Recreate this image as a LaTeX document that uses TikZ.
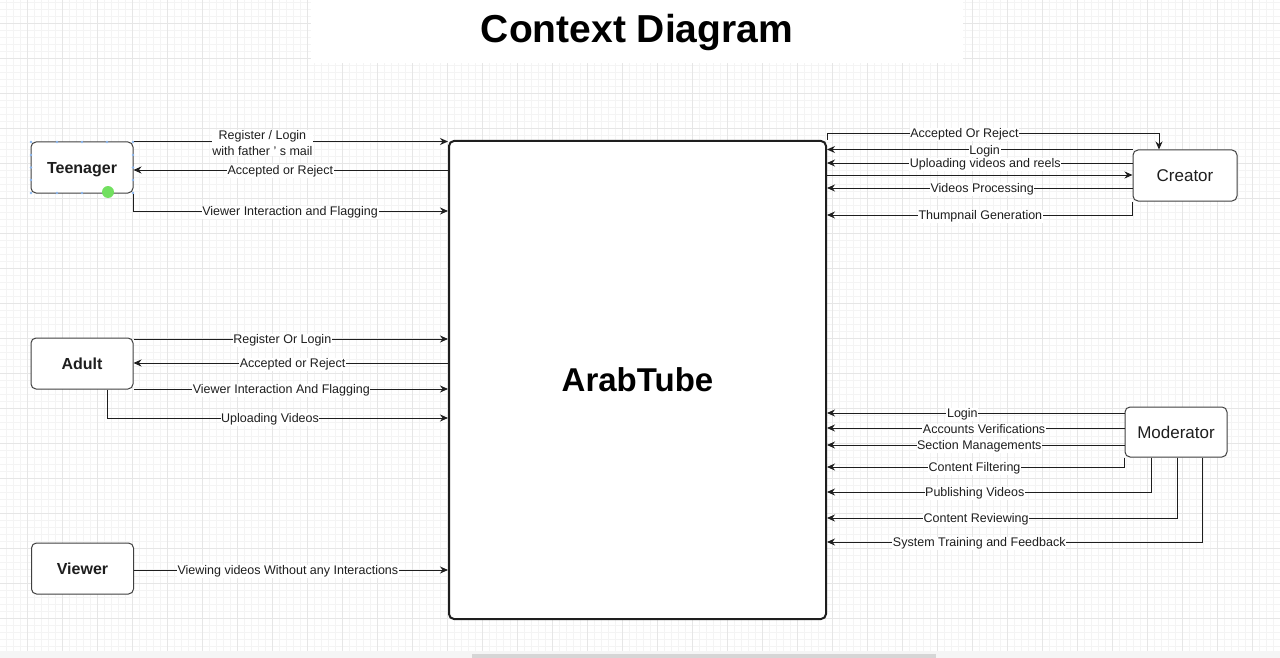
\documentclass[tikz,border=0pt]{standalone}
\usepackage{fontspec}
\setmainfont{Liberation Sans}
\usetikzlibrary{arrows.meta}
\definecolor{gmin}{HTML}{F4F4F4}
\definecolor{gmaj}{HTML}{E6E6E6}
\definecolor{ln}{HTML}{1E1E1E}
\definecolor{handle}{HTML}{8DB8F0}
\definecolor{greendot}{HTML}{72E060}
\tikzset{
  ent/.style={draw=ln!85, line width=1pt, rounded corners=5pt, fill=white,
    minimum width=102pt, minimum height=51pt, inner sep=0pt, text=ln, text depth=0pt},
  entb/.style={ent, font=\bfseries\fontsize{16}{18}\selectfont},
  entr/.style={ent, font=\fontsize{17}{19}\selectfont},
  flow/.style={draw=ln, line width=0.95pt, -{Stealth[length=8pt,width=7pt]}},
  lbl/.style={fill=white, inner sep=0.6pt, font=\fontsize{12.5}{16.5}\selectfont, text=ln, yshift=-1.5pt},
}
\begin{document}
\begin{tikzpicture}[x=1pt,y=-1pt]
\useasboundingbox (0,0) rectangle (1280,658);
\fill[white] (0,0) rectangle (1280,658);
% grid
\foreach \gx in {6,13,...,1280} \draw[gmin, line width=0.5pt] (\gx,0) -- (\gx,651);
\foreach \gy in {2,9,...,651} \draw[gmin, line width=0.5pt] (0,\gy) -- (1280,\gy);
\foreach \gx in {27,62,...,1280} \draw[gmaj, line width=0.6pt] (\gx,0) -- (\gx,651);
\foreach \gy in {23,58,...,651} \draw[gmaj, line width=0.6pt] (0,\gy) -- (1280,\gy);
% bottom strip and scrollbar
\fill[black!4] (0,651) rectangle (1280,658);
\fill[black!16] (472,653.5) rectangle (936,657.5);
% title
\fill[white] (311,0) rectangle (963,63);
\node[font=\bfseries\fontsize{39}{44}\selectfont, inner sep=0pt, anchor=base] (title) at (637,43) {Context Diagram};

% central process
\node[draw=ln, line width=2pt, rounded corners=5pt, fill=white, minimum width=377pt, minimum height=478pt,
  font=\bfseries\fontsize{33}{38}\selectfont, inner sep=0pt] (main) at (637.5,380) {ArabTube};

% external entities
\node[entb] (teen) at (82,167.5) {Teenager};
\node[entb] (adult) at (82,363.5) {Adult};
\node[entb] (viewer) at (82.5,568.5) {Viewer};
\node[entr, minimum width=104pt] (creator) at (1185,175.5) {Creator};
\node[entr, minimum height=50pt] (mod) at (1176,432) {Moderator};

% selection handles on Teenager
\foreach \hx in {31,57,82,107,133} {
  \fill[handle] (\hx,142) circle (1.4pt);
  \fill[handle] (\hx,193) circle (1.4pt);
}
\foreach \hy in {155,167.5,180} {
  \fill[handle] (31,\hy) circle (1.4pt);
  \fill[handle] (133,\hy) circle (1.4pt);
}
\fill[greendot] (108,192) circle (6pt);

% Teenager flows
\draw[flow] (teen.north east) -- node[lbl, pos=0.41, align=center] {Register / Login\\with father ' s mail} (main.west |- teen.north east);
\draw[flow] (main.west |- 0,170) -- node[lbl, pos=0.533] {Accepted or Reject} (teen.east |- 0,170);
\draw[flow] (teen.south east) |- node[lbl, pos=0.749] {Viewer Interaction and Flagging} (main.west |- 0,211);

% Adult flows
\draw[flow] (adult.east |- 0,339) -- node[lbl, pos=0.473] {Register Or Login} (main.west |- 0,339);
\draw[flow] (main.west |- 0,363) -- node[lbl, pos=0.494] {Accepted or Reject} (adult.east |- 0,363);
\draw[flow] (adult.east |- 0,389) -- node[lbl, pos=0.47] {Viewer Interaction And Flagging} (main.west |- 0,389);
\draw[flow] (adult.south -| 107,0) |- node[lbl, pos=0.739] {Uploading Videos} (main.west |- 0,418);

% Viewer flow
\draw[flow] (viewer.east |- 0,570) -- node[lbl, pos=0.49] {Viewing videos Without any Interactions} (main.west |- 0,570);

% Creator flows
\draw[flow] (main.north east) -- (main.north east |- 0,133) -| node[lbl, pos=0.207] {Accepted Or Reject} (creator.north -| 1159,0);
\draw[flow] (creator.north west) -- node[lbl, pos=0.484] {Login} (main.east |- creator.north west);
\draw[flow] (creator.west |- 0,163) -- node[lbl, pos=0.482] {Uploading videos and reels} (main.east |- 0,163);
\draw[flow] (main.east |- 0,175) -- (creator.west |- 0,175);
\draw[flow] (creator.west |- 0,188) -- node[lbl, pos=0.492] {Videos Processing} (main.east |- 0,188);
\draw[flow] (creator.south west) |- node[lbl, pos=0.749] {Thumpnail Generation} (main.east |- 0,215);

% Moderator flows
\draw[flow] (mod.west |- 0,413) -- node[lbl, pos=0.545] {Login} (main.east |- 0,413);
\draw[flow] (mod.west |- 0,428) -- node[lbl, pos=0.472] {Accounts Verifications} (main.east |- 0,428);
\draw[flow] (mod.west |- 0,445) -- node[lbl, pos=0.488] {Section Managements} (main.east |- 0,445);
\draw[flow] (mod.south west) |- node[lbl, pos=0.752] {Content Filtering} (main.east |- 0,467);
\draw[flow] (mod.south -| 1151,0) |- node[lbl, pos=0.772] {Publishing Videos} (main.east |- 0,492);
\draw[flow] (mod.south -| 1177,0) |- node[lbl, pos=0.787] {Content Reviewing} (main.east |- 0,518);
\draw[flow] (mod.south -| 1202,0) |- node[lbl, pos=0.797] {System Training and Feedback} (main.east |- 0,542);
\end{tikzpicture}
\end{document}
